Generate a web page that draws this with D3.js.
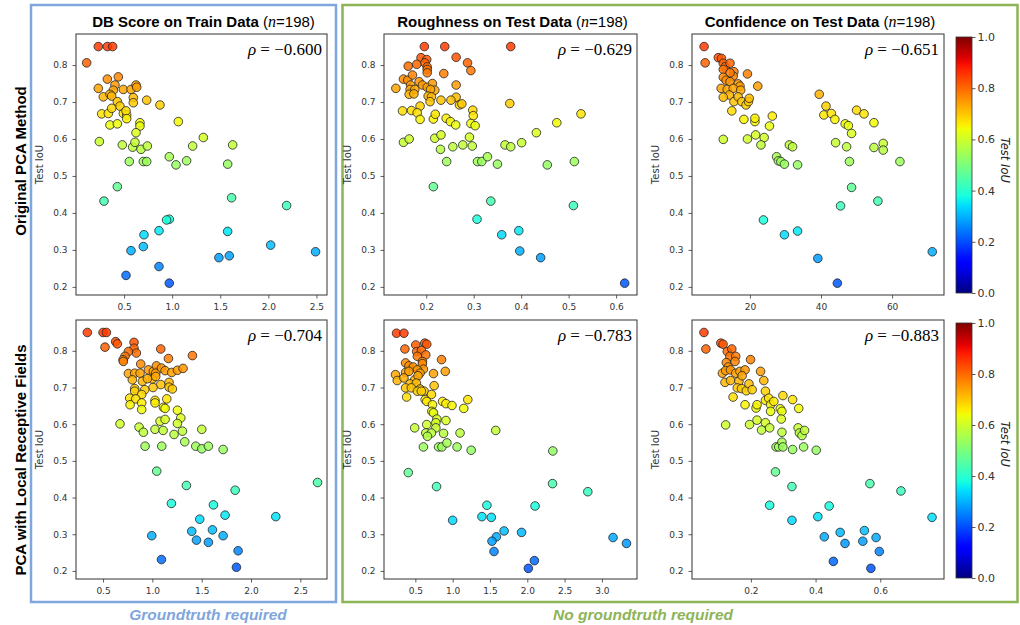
<!DOCTYPE html>
<html>
<head>
<meta charset="utf-8">
<script src="https://cdn.jsdelivr.net/npm/d3@7"></script>
<style>
body { margin: 0; background: #fff; }
svg { display: block; }
text { font-family: "DejaVu Sans", sans-serif; }
</style>
</head>
<body>
<svg id="chart" width="1020" height="625"></svg>
<script>
// values, [metric, test IoU]
var dbTrain = [[0.232,0.85],[0.326,0.85],[0.381,0.85],[0.111,0.806],[0.44,0.768],[0.326,0.762],[0.232,0.737],[0.405,0.746],[0.492,0.734],[0.572,0.734],[0.624,0.746],[0.631,0.74],[0.388,0.732],[0.284,0.714],[0.353,0.721],[0.371,0.716],[0.596,0.712],[0.596,0.698],[0.735,0.705],[0.873,0.692],[0.43,0.701],[0.457,0.689],[0.267,0.668],[0.336,0.669],[0.371,0.683],[0.492,0.669],[0.527,0.665],[0.52,0.676],[0.527,0.655],[0.353,0.638],[0.43,0.641],[0.665,0.644],[0.665,0.635],[0.624,0.617],[1.064,0.647],[1.324,0.604],[0.243,0.593],[0.482,0.584],[0.589,0.578],[0.613,0.591],[0.676,0.572],[0.742,0.581],[1.213,0.581],[1.629,0.584],[0.97,0.552],[0.554,0.539],[0.7,0.539],[0.735,0.539],[1.04,0.53],[1.15,0.541],[1.577,0.532],[0.43,0.471],[0.291,0.432],[1.618,0.441],[2.19,0.42],[0.97,0.383],[0.942,0.381],[0.707,0.341],[0.863,0.352],[1.577,0.35],[0.572,0.298],[0.7,0.309],[2.024,0.313],[2.491,0.295],[1.486,0.279],[1.594,0.284],[0.52,0.231],[0.863,0.255],[0.97,0.21]];
var roughTest = [[0.196,0.85],[0.239,0.85],[0.378,0.85],[0.189,0.82],[0.201,0.815],[0.263,0.821],[0.287,0.806],[0.294,0.785],[0.197,0.806],[0.202,0.795],[0.202,0.788],[0.202,0.779],[0.18,0.802],[0.162,0.797],[0.237,0.777],[0.136,0.737],[0.152,0.762],[0.161,0.759],[0.171,0.773],[0.185,0.755],[0.192,0.746],[0.167,0.746],[0.166,0.734],[0.176,0.734],[0.202,0.74],[0.213,0.75],[0.218,0.732],[0.209,0.734],[0.164,0.721],[0.174,0.722],[0.204,0.716],[0.211,0.714],[0.208,0.701],[0.263,0.746],[0.263,0.713],[0.252,0.705],[0.231,0.705],[0.27,0.692],[0.275,0.695],[0.376,0.696],[0.15,0.676],[0.169,0.677],[0.187,0.689],[0.181,0.671],[0.187,0.653],[0.215,0.654],[0.219,0.667],[0.242,0.656],[0.251,0.647],[0.262,0.638],[0.298,0.678],[0.299,0.663],[0.294,0.642],[0.303,0.636],[0.475,0.644],[0.526,0.668],[0.432,0.617],[0.152,0.591],[0.164,0.6],[0.218,0.602],[0.231,0.611],[0.291,0.605],[0.23,0.572],[0.256,0.579],[0.277,0.584],[0.297,0.581],[0.366,0.584],[0.378,0.579],[0.401,0.59],[0.243,0.539],[0.308,0.539],[0.317,0.539],[0.329,0.552],[0.35,0.532],[0.455,0.53],[0.512,0.539],[0.215,0.471],[0.336,0.432],[0.51,0.42],[0.307,0.383],[0.359,0.341],[0.395,0.352],[0.397,0.297],[0.441,0.279],[0.618,0.21]];
var confTest = [[7.1,0.85],[7.4,0.806],[11.1,0.82],[12.0,0.818],[12.5,0.805],[13.0,0.795],[14.4,0.805],[12.5,0.788],[15.5,0.782],[15.3,0.77],[14.4,0.779],[19.3,0.776],[12.5,0.767],[13.3,0.759],[14.4,0.755],[16.7,0.749],[17.2,0.743],[22.2,0.743],[11.9,0.737],[13.6,0.734],[15.3,0.737],[17.4,0.732],[14.2,0.719],[12.5,0.713],[15.5,0.701],[16.7,0.714],[17.7,0.701],[18.9,0.692],[19.6,0.701],[19.8,0.71],[14.9,0.676],[39.5,0.721],[41.4,0.689],[40.8,0.665],[42.9,0.669],[43.9,0.653],[50.0,0.678],[52.1,0.668],[54.9,0.644],[46.8,0.641],[47.7,0.636],[48.6,0.615],[18.3,0.653],[21.4,0.647],[21.4,0.656],[25.5,0.635],[26.3,0.662],[12.5,0.599],[19.3,0.6],[21.6,0.611],[24.0,0.604],[23.1,0.584],[31.1,0.584],[32.0,0.579],[44.1,0.59],[47.2,0.579],[54.9,0.577],[57.5,0.588],[57.5,0.57],[27.5,0.552],[28.0,0.541],[28.7,0.539],[29.7,0.532],[33.4,0.53],[48.0,0.539],[62.2,0.539],[48.6,0.469],[56.0,0.432],[45.5,0.419],[23.8,0.381],[29.7,0.341],[33.4,0.351],[39.1,0.277],[44.6,0.21],[71.3,0.295]];
var dbLocal = [[0.341,0.85],[0.5,0.85],[0.534,0.85],[0.52,0.81],[0.628,0.825],[0.645,0.819],[0.814,0.823],[0.814,0.807],[0.838,0.794],[0.757,0.798],[0.723,0.785],[0.703,0.776],[0.706,0.771],[1.085,0.805],[1.163,0.779],[1.406,0.787],[0.882,0.764],[0.757,0.738],[0.821,0.739],[0.875,0.739],[0.797,0.721],[0.96,0.748],[1.01,0.744],[1.041,0.759],[1.034,0.739],[1.092,0.753],[1.129,0.746],[1.196,0.741],[1.254,0.747],[1.311,0.752],[1.0,0.723],[0.899,0.717],[0.95,0.724],[1.034,0.73],[1.085,0.708],[1.169,0.714],[1.169,0.701],[1.203,0.696],[1.007,0.70],[0.821,0.697],[0.821,0.69],[0.923,0.694],[0.892,0.681],[0.77,0.671],[0.831,0.669],[0.774,0.653],[0.892,0.658],[0.892,0.64],[1.027,0.665],[1.027,0.658],[1.146,0.669],[1.112,0.646],[1.129,0.643],[1.254,0.638],[1.288,0.617],[1.078,0.608],[1.129,0.613],[1.254,0.602],[0.672,0.601],[0.865,0.592],[0.909,0.578],[1.027,0.586],[1.109,0.583],[1.22,0.572],[1.305,0.581],[1.501,0.586],[0.926,0.54],[1.095,0.54],[1.328,0.552],[1.44,0.54],[1.501,0.533],[1.568,0.54],[1.717,0.531],[1.044,0.472],[1.345,0.433],[1.193,0.384],[1.619,0.38],[1.839,0.42],[2.674,0.441],[1.48,0.341],[1.737,0.352],[2.251,0.348],[1.399,0.308],[1.609,0.312],[0.994,0.296],[1.447,0.284],[1.568,0.278],[1.717,0.296],[1.869,0.255],[1.092,0.231],[1.852,0.21]];
var roughLocal = [[0.248,0.848],[0.347,0.848],[0.36,0.805],[0.505,0.816],[0.626,0.821],[0.653,0.818],[0.518,0.798],[0.581,0.801],[0.527,0.785],[0.64,0.789],[0.595,0.771],[0.851,0.776],[0.369,0.767],[0.414,0.759],[0.473,0.756],[0.595,0.765],[0.608,0.75],[0.527,0.748],[0.234,0.735],[0.369,0.741],[0.414,0.744],[0.563,0.739],[0.743,0.738],[0.901,0.744],[0.257,0.719],[0.347,0.726],[0.491,0.721],[0.536,0.732],[0.428,0.71],[0.514,0.712],[0.369,0.699],[0.446,0.699],[0.563,0.696],[0.752,0.705],[0.527,0.69],[0.617,0.69],[0.383,0.674],[0.581,0.69],[0.716,0.681],[0.631,0.667],[0.653,0.662],[0.73,0.653],[0.865,0.662],[0.91,0.656],[0.991,0.651],[1.203,0.667],[1.149,0.643],[0.721,0.635],[0.743,0.631],[0.788,0.614],[0.775,0.604],[0.91,0.61],[0.653,0.599],[0.491,0.59],[0.775,0.59],[0.64,0.576],[0.716,0.576],[0.878,0.575],[1.099,0.576],[1.577,0.583],[0.662,0.567],[0.608,0.538],[0.811,0.538],[0.856,0.538],[0.923,0.549],[1.059,0.538],[1.248,0.529],[2.342,0.527],[0.405,0.468],[0.784,0.43],[1.459,0.379],[2.104,0.377],[2.338,0.438],[2.811,0.416],[1.392,0.348],[1.518,0.346],[1.0,0.338],[1.689,0.309],[1.923,0.305],[1.586,0.293],[1.527,0.281],[3.149,0.291],[3.329,0.275],[1.554,0.253],[2.095,0.228],[2.014,0.207]];
var confLocal = [[0.055,0.85],[0.061,0.805],[0.107,0.821],[0.114,0.818],[0.127,0.798],[0.141,0.805],[0.135,0.785],[0.153,0.785],[0.151,0.771],[0.199,0.776],[0.124,0.768],[0.13,0.756],[0.112,0.739],[0.122,0.746],[0.137,0.748],[0.153,0.739],[0.166,0.744],[0.182,0.748],[0.23,0.744],[0.12,0.714],[0.137,0.719],[0.163,0.717],[0.173,0.732],[0.158,0.699],[0.171,0.697],[0.186,0.691],[0.194,0.71],[0.204,0.694],[0.24,0.719],[0.145,0.674],[0.182,0.653],[0.216,0.644],[0.219,0.653],[0.245,0.69],[0.245,0.665],[0.255,0.671],[0.261,0.653],[0.261,0.635],[0.271,0.662],[0.291,0.642],[0.296,0.635],[0.299,0.678],[0.329,0.667],[0.348,0.643],[0.294,0.614],[0.122,0.598],[0.196,0.599],[0.219,0.611],[0.245,0.604],[0.233,0.584],[0.258,0.59],[0.296,0.578],[0.346,0.59],[0.35,0.576],[0.358,0.569],[0.366,0.583],[0.278,0.538],[0.286,0.538],[0.296,0.551],[0.299,0.538],[0.329,0.531],[0.363,0.538],[0.402,0.529],[0.276,0.47],[0.327,0.43],[0.258,0.379],[0.442,0.377],[0.568,0.438],[0.664,0.418],[0.76,0.346],[0.327,0.338],[0.407,0.348],[0.476,0.305],[0.551,0.31],[0.427,0.293],[0.491,0.275],[0.546,0.281],[0.587,0.291],[0.597,0.253],[0.455,0.226],[0.571,0.207]];

var titles = ["DB Score on Train Data", "Roughness on Test Data", "Confidence on Test Data"];
var rowLabels = ["Original PCA Method", "PCA with Local Receptive Fields"];
var rhoLabels = ["\u22120.600", "\u22120.629", "\u22120.651", "\u22120.704", "\u22120.783", "\u22120.883"];
var xLimits = [[0.0, 2.61], [0.111, 0.644], [3.7, 74.6], [0.226, 2.77], [0.08, 3.47], [0.018, 0.797]];
var yLimits = [0.178, 0.884];
var xTicks = [[0.5, 1.0, 1.5, 2.0, 2.5], [0.2, 0.3, 0.4, 0.5, 0.6], [20, 40, 60],
              [0.5, 1.0, 1.5, 2.0, 2.5], [0.5, 1.0, 1.5, 2.0, 2.5, 3.0], [0.2, 0.4, 0.6]];
var yTicks = [0.2, 0.3, 0.4, 0.5, 0.6, 0.7, 0.8];
var cbarTicks = [0, 0.2, 0.4, 0.6, 0.8, 1.0];

var panelData = [dbTrain, roughTest, confTest, dbLocal, roughLocal, confLocal];

var colX = [[76, 327], [384, 637], [692, 944]];
var rowY = [[34, 295], [320, 579]];
var BLUE = "#7fa6dd", GREEN = "#8db456";

// matplotlib "jet"
var jetR = d3.scaleLinear().domain([0, 0.35, 0.66, 0.89, 1]).range([0, 0, 1, 1, 0.5]).clamp(true);
var jetG = d3.scaleLinear().domain([0, 0.125, 0.375, 0.64, 0.91, 1]).range([0, 0, 1, 1, 0, 0]).clamp(true);
var jetB = d3.scaleLinear().domain([0, 0.11, 0.34, 0.65, 1]).range([0.5, 1, 1, 0, 0]).clamp(true);
function jet(t) {
  return d3.rgb(255 * jetR(t), 255 * jetG(t), 255 * jetB(t)).formatHex();
}

var svg = d3.select("#chart");

// group boxes
svg.append("rect").attr("x", 31).attr("y", 5).attr("width", 305).attr("height", 597)
    .attr("fill", "none").attr("stroke", BLUE).attr("stroke-width", 2.5);
svg.append("rect").attr("x", 342.5).attr("y", 5).attr("width", 675).attr("height", 597)
    .attr("fill", "none").attr("stroke", GREEN).attr("stroke-width", 2.5);

svg.append("text").attr("x", 208).attr("y", 620).attr("text-anchor", "middle")
    .style("font-family", "'Liberation Sans', Arial, sans-serif")
    .style("font-weight", "bold").style("font-style", "italic").style("font-size", "15.5px")
    .attr("fill", BLUE).text("Groundtruth required");
svg.append("text").attr("x", 643).attr("y", 620).attr("text-anchor", "middle")
    .style("font-family", "'Liberation Sans', Arial, sans-serif")
    .style("font-weight", "bold").style("font-style", "italic").style("font-size", "15.5px")
    .attr("fill", GREEN).text("No groundtruth required");

var rowLabelY = [161, 460];
rowLabels.forEach(function(lbl, r) {
  svg.append("text")
      .attr("transform", "translate(26," + rowLabelY[r] + ") rotate(-90)")
      .attr("text-anchor", "middle")
      .style("font-family", "'Liberation Sans', Arial, sans-serif")
      .style("font-weight", "bold").style("font-size", "15px")
      .attr("fill", "#000").text(lbl);
});

// gradient for colorbars
var grad = svg.append("defs").append("linearGradient")
    .attr("id", "jetgrad").attr("x1", 0).attr("y1", 1).attr("x2", 0).attr("y2", 0);
grad.selectAll("stop").data(d3.range(0, 1.0001, 0.02)).enter().append("stop")
    .attr("offset", function(d) { return d; })
    .attr("stop-color", function(d) { return jet(d); });

function styleAxis(g, size) {
  g.select(".domain").remove();
  g.selectAll(".tick line").attr("stroke", "#333").attr("stroke-width", 0.8);
  g.selectAll(".tick text").attr("fill", "#333")
      .style("font-family", "'DejaVu Sans', sans-serif").style("font-size", size);
}

function drawPanel(i) {
  var r = Math.floor(i / 3), c = i % 3;
  var x0 = colX[c][0], x1 = colX[c][1], y0 = rowY[r][0], y1 = rowY[r][1];
  var x = d3.scaleLinear().domain(xLimits[i]).range([x0, x1]);
  var y = d3.scaleLinear().domain(yLimits).range([y1, y0]);
  var g = svg.append("g");

  var fmt = c == 2 && r == 0 ? d3.format("d") : d3.format(".1f");

  g.append("g").attr("transform", "translate(0," + y1 + ")")
      .call(d3.axisBottom(x).tickValues(xTicks[i]).tickFormat(fmt).tickSize(3.5).tickPadding(5))
      .call(styleAxis, "9px");
  g.append("g").attr("transform", "translate(" + x0 + ",0)")
      .call(d3.axisLeft(y).tickValues(yTicks).tickFormat(d3.format(".1f")).tickSize(3.5).tickPadding(5))
      .call(styleAxis, "9px");

  g.append("g").selectAll("circle")
      .data(panelData[i])
      .enter().append("circle")
        .attr("cx", function(d) { return x(d[0]); })
        .attr("cy", function(d) { return y(d[1]); })
        .attr("r", 4.3)
        .attr("fill", function(d) { return jet(d[1]); })
        .attr("fill-opacity", 0.85)
        .attr("stroke", "#222")
        .attr("stroke-width", 0.8);

  g.append("rect").attr("x", x0).attr("y", y0).attr("width", x1 - x0).attr("height", y1 - y0)
      .attr("fill", "none").attr("stroke", "#333").attr("stroke-width", 1);

  g.append("text")
      .attr("transform", "translate(" + (x0 - 33) + "," + ((y0 + y1) / 2) + ") rotate(-90)")
      .attr("text-anchor", "middle").attr("fill", "#333")
      .style("font-size", "10px").text("Test IoU");

  var rho = g.append("text").attr("x", x1 - 5).attr("y", y0 + 21)
      .attr("text-anchor", "end")
      .style("font-family", "'Liberation Serif', 'DejaVu Serif', serif")
      .style("font-size", "17px").attr("fill", "#000");
  rho.append("tspan").style("font-style", "italic").text("\u03C1");
  rho.append("tspan").text(" = " + rhoLabels[i]);

  if (r == 0) {
    var t = svg.append("text").attr("x", (x0 + x1) / 2 + 2).attr("y", 27)
        .attr("text-anchor", "middle").attr("fill", "#000")
        .style("font-family", "'Liberation Sans', Arial, sans-serif").style("font-size", "15px");
    t.append("tspan").style("font-weight", "bold").text(titles[c] + " ");
    t.append("tspan").text("(");
    t.append("tspan").style("font-style", "italic")
        .style("font-family", "'Liberation Serif', serif").style("font-size", "16px").text("n");
    t.append("tspan").text("=198)");
  }
}

d3.range(6).forEach(drawPanel);

// colorbars
var cbarY = [[37, 293], [323, 578]];
var cbarLabelY = [160, 444];
cbarY.forEach(function(cy, r) {
  var cx0 = 956, cx1 = 972;
  var s = d3.scaleLinear().domain([0, 1]).range([cy[1], cy[0]]);
  svg.append("rect").attr("x", cx0).attr("y", cy[0]).attr("width", cx1 - cx0).attr("height", cy[1] - cy[0])
      .attr("fill", "url(#jetgrad)").attr("stroke", "#333").attr("stroke-width", 0.8);
  svg.append("g").attr("transform", "translate(" + cx1 + ",0)")
      .call(d3.axisRight(s).tickValues(cbarTicks).tickFormat(d3.format(".1f")).tickSize(3.5).tickPadding(2))
      .call(styleAxis, "11px");
  svg.append("text")
      .attr("transform", "translate(1001," + cbarLabelY[r] + ") rotate(90)")
      .attr("text-anchor", "middle").attr("fill", "#222")
      .style("font-style", "italic").style("font-size", "11.5px").text("Test IoU");
});
</script>
</body>
</html>
